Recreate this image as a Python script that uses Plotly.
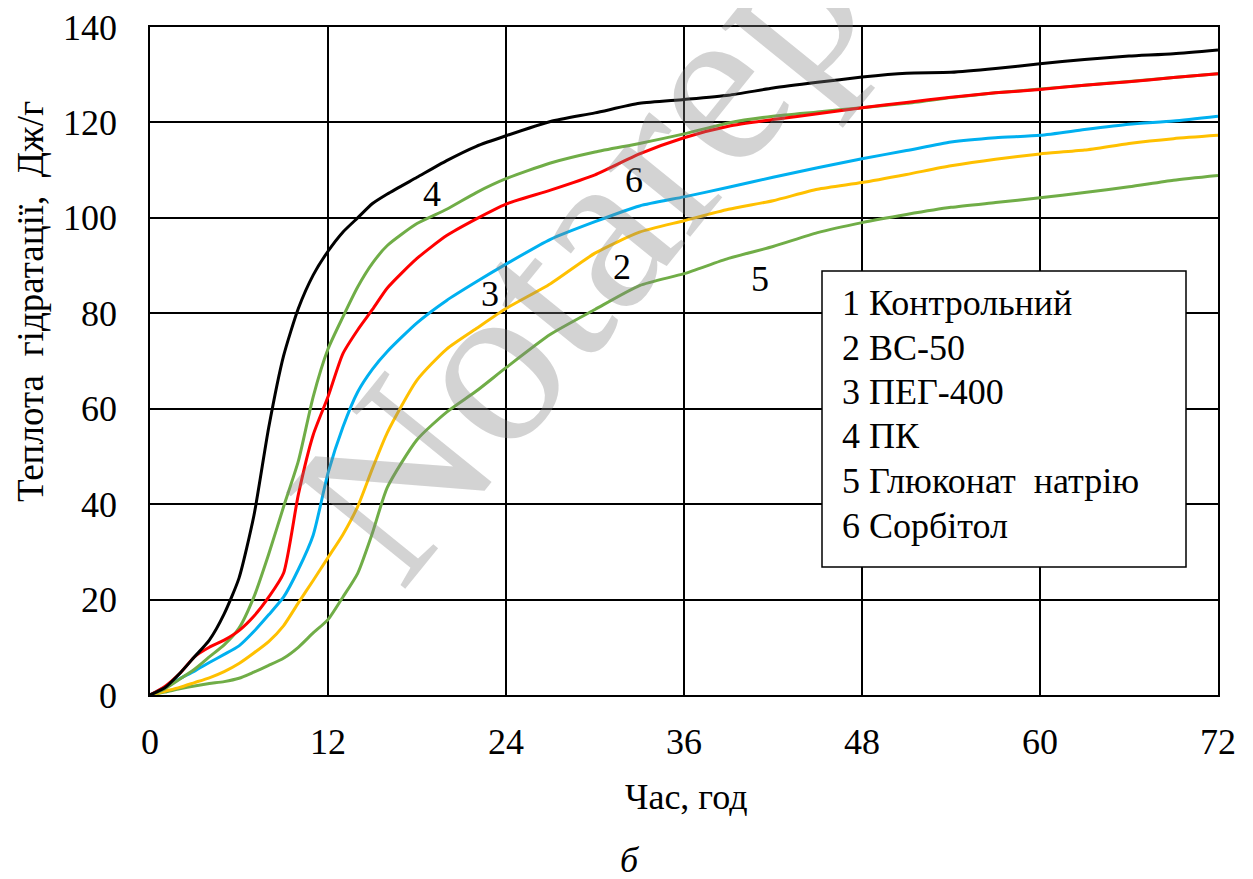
import plotly.graph_objects as go

# time grid (hours)
t = [0, 1, 2, 3, 4, 5, 6, 7, 8, 9, 10, 11, 12, 13, 14, 15, 16, 18, 20, 22, 24,
     27, 30, 33, 36, 39, 42, 45, 48, 51, 54, 57, 60, 63, 66, 69, 72]

# 1 Контрольний (black)
s1 = [0, 1.5, 4.5, 8, 11.5, 17, 24.5, 37.5, 56, 71, 81, 88, 93, 97, 100, 103, 105,
      108.5, 112, 115, 117.2, 120.2, 122, 124, 124.8, 125.7, 127.2, 128.4, 129.5,
      130.3, 130.5, 131.3, 132.3, 133.2, 133.9, 134.4, 135.2]
# 4 ПК (green, upper)
s4 = [0, 1.3, 3.3, 5.4, 8, 10.5, 14, 20.5, 29.5, 39.4, 49, 62.5, 72.5, 79.2, 85.5,
      90.5, 94.2, 98.8, 101.8, 105.3, 108.2, 111.5, 113.8, 115.6, 117.6, 119.9,
      121.3, 122.2, 123.1, 124, 125.2, 126.2, 127, 127.8, 128.6, 129.4, 130.2]
# 6 Сорбітол (red)
s6 = [0, 1.8, 4.5, 8, 10, 11.5, 13.5, 16.5, 20.5, 25.5, 42, 54.5, 62.5, 71.5, 76.5,
      80.8, 85.3, 91.5, 96.3, 99.8, 102.9, 105.8, 109, 113.4, 116.8, 119.2, 120.6,
      121.8, 123.1, 124.2, 125.3, 126.2, 126.9, 127.8, 128.5, 129.4, 130.2]
# 3 ПЕГ-400 (blue)
s3 = [0, 1.6, 3.4, 5, 6.8, 8.5, 10.3, 13.3, 16.8, 20.5, 26.3, 33.5, 46.5, 56.1, 63.5,
      68.3, 72, 78, 82.7, 86.6, 90.3, 95.5, 99.2, 102.5, 104.4, 106.4, 108.5, 110.5,
      112.4, 114.1, 115.9, 116.8, 117.3, 118.5, 119.6, 120.3, 121.3]
# 2 ВС-50 (yellow)
s2 = [0, 0.8, 1.6, 2.6, 3.6, 4.9, 6.6, 8.8, 11.2, 14.5, 19.3, 24, 28.8, 33.6, 39.5,
      47.5, 55, 66, 72.5, 76.8, 81, 86.2, 92.6, 97, 99.4, 101.8, 103.6, 106, 107.4,
      109.1, 110.9, 112.3, 113.4, 114.2, 115.6, 116.6, 117.3]
# 5 Глюконат натрію (green, lower)
s5 = [0, 0.6, 1.3, 1.9, 2.4, 2.8, 3.5, 4.8, 6.2, 7.7, 10, 13, 15.8, 20.5, 25.5, 34,
      43.5, 53.5, 59.3, 63.7, 68.6, 75.6, 80.8, 85.8, 88.3, 91.5, 94, 96.9, 99, 100.7,
      102.2, 103.2, 104.2, 105.3, 106.5, 107.9, 108.9]

legend_lines = ["1 Контрольний", "2 ВС-50", "3 ПЕГ-400", "4 ПК",
                "5 Глюконат  натрію", "6 Сорбітол"]

curve_labels = ["4", "6", "3", "2", "5"]
label_t = [19.0, 32.6, 22.9, 31.8, 41.1]
label_v = [105.1, 108.0, 84.0, 89.6, 87.2]

FONT = "Liberation Serif, Times New Roman, serif"
FS = 36

# page offset of the plot div (body margin) is compensated for
OFF = 8
W, H = 1253 - OFF, 879 - OFF
PL, PR, PT, PB = 150, 1218, 27, 695          # plot area in page pixels
pw, ph = PR - PL, PB - PT
L, T = PL - OFF, PT - OFF
R, B = W - (PR - OFF), H - (PB - OFF)


def px(x):
    return (x - PL) / pw


def py(y):
    return (PB - y) / ph


fig = go.Figure()
series = [
    (s5, "#70AD47", legend_lines[4]),
    (s2, "#FFC000", legend_lines[1]),
    (s3, "#00B0F0", legend_lines[2]),
    (s4, "#70AD47", legend_lines[3]),
    (s6, "#FF0000", legend_lines[5]),
    (s1, "#000000", legend_lines[0]),
]
for vals, col, name in series:
    fig.add_trace(go.Scatter(x=t, y=vals, mode="lines", name=name,
                             line=dict(color=col, width=3, shape="spline", smoothing=0.6),
                             showlegend=False))

axis_common = dict(showgrid=True, gridcolor="black", gridwidth=1.5, showline=True,
                   linecolor="black", linewidth=1.5, mirror=True, zeroline=False,
                   ticks="", automargin=False, ticklabeloverflow="allow",
                   tickfont=dict(family=FONT, size=FS, color="black"))
fig.update_xaxes(range=[0, 72], dtick=12, tick0=0, ticklabelstandoff=14, **axis_common)
fig.update_yaxes(range=[0, 140], dtick=20, tick0=0, ticklabelstandoff=24, **axis_common)

annotations = []
for lab, lt, lv in zip(curve_labels, label_t, label_v):
    annotations.append(dict(x=lt, y=lv, xref="x", yref="y", text=lab, showarrow=False,
                            xanchor="center", yanchor="middle",
                            font=dict(family=FONT, size=FS, color="black")))
# legend text, one line each
legend_y = [303, 347.5, 391.5, 436, 481, 526]
for line, ly in zip(legend_lines, legend_y):
    annotations.append(dict(x=px(840), y=py(ly), xref="paper", yref="paper",
                            xanchor="left", yanchor="middle", align="left",
                            text=line, showarrow=False,
                            font=dict(family=FONT, size=FS, color="black")))
# axis titles
annotations.append(dict(x=px(686), y=py(797), xref="paper", yref="paper", text="Час, год",
                        xanchor="center", yanchor="middle",
                        showarrow=False, font=dict(family=FONT, size=FS, color="black")))
annotations.append(dict(x=px(30), y=py(302), xref="paper", yref="paper",
                        text="Теплота  гідратації,  Дж/г", textangle=-90,
                        xanchor="center", yanchor="middle",
                        showarrow=False, font=dict(family=FONT, size=37, color="black")))
annotations.append(dict(x=px(630), y=py(860), xref="paper", yref="paper", text="<i>б</i>",
                        xanchor="center", yanchor="middle",
                        showarrow=False, font=dict(family=FONT, size=FS, color="black")))
# watermark
annotations.append(dict(x=28.8, y=93.0, xref="x", yref="y", text="Notarep", textangle=-51,
                        xanchor="center", yanchor="middle", showarrow=False,
                        font=dict(family=FONT, size=234, color="rgba(128,128,128,0.35)")))

fig.update_layout(
    width=W, height=H, margin=dict(l=L, r=R, t=T, b=B),
    paper_bgcolor="white", plot_bgcolor="white",
    annotations=annotations,
    shapes=[dict(type="rect", xref="paper", yref="paper", x0=px(822), x1=px(1186),
                 y0=py(567), y1=py(271), fillcolor="white",
                 line=dict(color="black", width=1.5), layer="above")],
)

fig.write_html("out.html")
